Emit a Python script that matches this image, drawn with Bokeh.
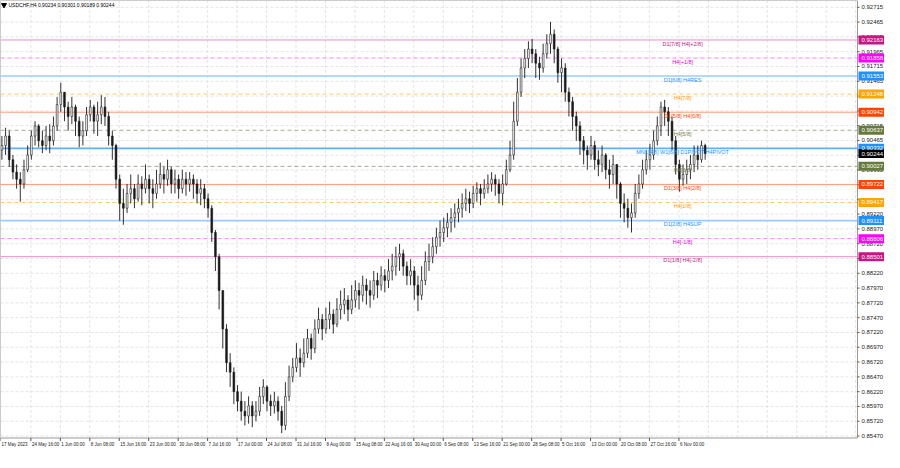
import numpy as np
from bokeh.plotting import figure
from bokeh.models import Range1d
from bokeh.embed import file_html
from bokeh.resources import INLINE
from bokeh.core.properties import value

# ---------------- data ----------------
SYMBOL = "USDCHF,H4"
LAST_OHLC = [0.90234, 0.90301, 0.90189, 0.90244]
PIP = 0.0001
BARS_PER_CANDLE = 4          # each drawn candle groups 4 H4 bars
OPEN0 = 9030

HIGH = [9054, 9068, 9063, 9022, 9006, 8993, 9014, 9038, 9063, 9079,
        9074, 9063, 9071, 9074, 9087, 9120, 9144, 9128, 9112, 9120,
        9107, 9087, 9079, 9103, 9115, 9107, 9112, 9123, 9120, 9095,
        9063, 9041, 8989, 8965, 8973, 8989, 8973, 8989, 8986, 9006,
        8989, 8981, 8997, 9009, 9002, 9014, 9002, 8997, 8989, 8997,
        8993, 8993, 8989, 8981, 8981, 8973, 8957, 8937, 8895, 8855,
        8793, 8736, 8687, 8663, 8633, 8622, 8606, 8614, 8606, 8606,
        8630, 8643, 8633, 8617, 8622, 8614, 8598, 8638, 8666, 8679,
        8704, 8695, 8712, 8728, 8720, 8744, 8764, 8753, 8764, 8774,
        8761, 8780, 8793, 8797, 8785, 8802, 8810, 8806, 8818, 8813,
        8810, 8826, 8823, 8834, 8829, 8846, 8855, 8867, 8872, 8862,
        8842, 8846, 8834, 8818, 8834, 8859, 8872, 8883, 8899, 8911,
        8916, 8924, 8932, 8940, 8948, 8957, 8965, 8960, 8970, 8976,
        8973, 8981, 8989, 8993, 8989, 8981, 8989, 9014, 9046, 9112,
        9152, 9185, 9201, 9214, 9218, 9201, 9188, 9210, 9226, 9247,
        9234, 9205, 9185, 9177, 9136, 9120, 9095, 9079, 9054, 9038,
        9054, 9046, 9030, 9038, 9025, 9014, 9022, 9006, 8976, 8957,
        8948, 8940, 8973, 8989, 9014, 9030, 9041, 9063, 9087, 9112,
        9115, 9103, 9087, 9054, 9014, 9006, 9014, 9022, 9038, 9038,
        9046, 9041]

LOW = [9014, 9022, 9002, 8981, 8965, 8943, 8965, 8993, 9014, 9038,
       9035, 9025, 9030, 9025, 9038, 9063, 9095, 9079, 9063, 9074,
       9054, 9035, 9038, 9054, 9079, 9058, 9054, 9074, 9071, 9038,
       9014, 8965, 8911, 8904, 8924, 8940, 8932, 8943, 8937, 8957,
       8940, 8932, 8948, 8965, 8957, 8970, 8957, 8957, 8948, 8957,
       8953, 8960, 8948, 8940, 8937, 8932, 8916, 8875, 8826, 8761,
       8695, 8655, 8630, 8601, 8589, 8573, 8565, 8568, 8562, 8572,
       8581, 8601, 8589, 8581, 8585, 8573, 8552, 8557, 8606, 8638,
       8655, 8647, 8663, 8679, 8676, 8687, 8720, 8709, 8720, 8728,
       8720, 8731, 8744, 8753, 8741, 8753, 8764, 8761, 8774, 8769,
       8764, 8777, 8780, 8793, 8790, 8797, 8810, 8818, 8826, 8818,
       8802, 8802, 8777, 8758, 8777, 8802, 8826, 8839, 8855, 8867,
       8875, 8883, 8891, 8899, 8908, 8916, 8927, 8924, 8932, 8943,
       8937, 8948, 8957, 8960, 8953, 8940, 8937, 8970, 8993, 9014,
       9071, 9120, 9152, 9169, 9177, 9152, 9149, 9161, 9185, 9193,
       9177, 9144, 9128, 9112, 9087, 9063, 9046, 9022, 9006, 8997,
       9014, 8997, 8986, 8993, 8981, 8965, 8973, 8948, 8916, 8908,
       8899, 8891, 8916, 8948, 8965, 8989, 8997, 9014, 9038, 9054,
       9071, 9054, 9030, 8989, 8960, 8970, 8973, 8981, 8993, 8997,
       9009, 9014]

CLOSE = [9038, 9054, 9014, 8993, 8981, 8973, 8997, 9022, 9054, 9071,
         9046, 9038, 9054, 9046, 9071, 9107, 9128, 9103, 9087, 9103,
         9079, 9054, 9063, 9090, 9103, 9079, 9090, 9103, 9087, 9054,
         9038, 8981, 8940, 8932, 8957, 8965, 8948, 8973, 8965, 8981,
         8965, 8957, 8973, 8989, 8981, 8997, 8973, 8981, 8965, 8981,
         8973, 8981, 8973, 8957, 8965, 8948, 8932, 8891, 8850, 8793,
         8728, 8671, 8655, 8622, 8606, 8589, 8581, 8598, 8581, 8589,
         8614, 8630, 8606, 8598, 8606, 8589, 8565, 8614, 8647, 8663,
         8679, 8671, 8687, 8712, 8695, 8728, 8744, 8728, 8744, 8753,
         8736, 8761, 8769, 8777, 8761, 8777, 8793, 8785, 8802, 8793,
         8785, 8810, 8802, 8818, 8810, 8826, 8834, 8850, 8855, 8834,
         8818, 8826, 8802, 8785, 8810, 8842, 8850, 8867, 8883, 8891,
         8899, 8908, 8916, 8924, 8932, 8940, 8948, 8940, 8957, 8965,
         8957, 8965, 8973, 8981, 8973, 8957, 8973, 8997, 9022, 9079,
         9128, 9169, 9185, 9201, 9193, 9177, 9169, 9193, 9210, 9226,
         9201, 9161, 9169, 9128, 9112, 9087, 9071, 9046, 9030, 9022,
         9038, 9014, 9006, 9022, 8997, 8989, 9006, 8973, 8940, 8932,
         8916, 8924, 8957, 8973, 8997, 9014, 9022, 9046, 9071, 9103,
         9095, 9079, 9046, 9006, 8981, 8989, 8997, 9006, 9022, 9014,
         9038, 9024.4]

TIME_LABELS = ["17 May 2023", "24 May 16:00", "1 Jun 00:00", "8 Jun 08:00",
               "15 Jun 16:00", "23 Jun 00:00", "30 Jun 08:00", "7 Jul 16:00",
               "17 Jul 00:00", "24 Jul 08:00", "31 Jul 16:00", "8 Aug 00:00",
               "15 Aug 08:00", "22 Aug 16:00", "30 Aug 00:00", "6 Sep 08:00",
               "13 Sep 16:00", "21 Sep 00:00", "28 Sep 08:00", "5 Oct 16:00",
               "13 Oct 00:00", "20 Oct 08:00", "27 Oct 16:00", "6 Nov 00:00"]
TIME_BARS = [0, 33, 65, 97, 129, 161, 193, 225, 257, 289, 321, 353, 385, 417,
             449, 481, 513, 545, 577, 609, 641, 673, 705, 737]
GRID_BAR_STEP = 32

PRICE_TICKS = [0.92715, 0.92465, 0.92215, 0.91965, 0.91715, 0.91465, 0.91215,
               0.90965, 0.90715, 0.90465, 0.90215, 0.89965, 0.89715, 0.89465,
               0.89220, 0.88970, 0.88720, 0.88470, 0.88220, 0.87970, 0.87720,
               0.87470, 0.87220, 0.86970, 0.86720, 0.86470, 0.86220, 0.85970,
               0.85720, 0.85470]

LEVEL_PRICES = [0.92163, 0.91858, 0.91553, 0.91248, 0.90942, 0.90637, 0.90332,
                0.90027, 0.89722, 0.89417, 0.89111, 0.88806, 0.88501]
LEVEL_NAMES = ["D1[7/8] H4[+2/8]", "H4[+1/8]", "D1[6/8] H4RES", "H4[7/8]",
               "D1[5/8] H4[6/8]", "H4[5/8]", "MN1[4/8] W1[6/8] D1PIVOT H4PIVOT",
               "H4[3/8]", "D1[3/8] H4[2/8]", "H4[1/8]", "D1[2/8] H4SUP",
               "H4[-1/8]", "D1[1/8] H4[-2/8]"]

# ---------------- styles ----------------
LEVEL_DASHED = [False, True, False, True, False, True, False, True, False, True, False, True, False]
LEVEL_DARK = ["#c71585", "#ff00ff", "#1e90ff", "#ffa500", "#ff4500", "#667a3c",
              "#1e90ff", "#667a3c", "#ff4500", "#ffa500", "#1e90ff", "#ff00ff", "#c71585"]
LEVEL_LINE = ["#e690c8", "#ff80ff", "#9ccbff", "#ffc870", "#ff9a78", "#a9a99a",
              "#5fb0ff", "#a9a99a", "#ff9a78", "#ffc870", "#9ccbff", "#ff80ff", "#e690c8"]
LEVEL_WIDTH = [1, 1, 1.6, 1, 1, 1, 1.6, 1, 1, 1, 1.6, 1, 1]
LEVEL_TEXT = ["#c71585", "#e000e0", "#1e90ff", "#ff9900", "#ff4500", "#7a8040",
              "#1e90ff", "#7a8040", "#ff4500", "#ff9900", "#1e90ff", "#e000e0", "#c71585"]

FONT = value("Liberation Sans")

# ---------------- layout ----------------
W, H = 884, 452
CHART_W_PX = 857.0
CHART_H_PX = 437.5
VIEW_BARS = 931.0
BPX = VIEW_BARS / CHART_W_PX
Y_TOP = 0.92830
Y_CHART_BOT = 0.85437
PPX = (Y_TOP - Y_CHART_BOT) / CHART_H_PX
X_END = VIEW_BARS + (W - CHART_W_PX) * BPX
Y_MIN = Y_CHART_BOT - (H - CHART_H_PX) * PPX

p = figure(width=W, height=H, x_range=Range1d(0, X_END), y_range=Range1d(Y_MIN, Y_TOP),
           output_backend="svg", toolbar_location=None, x_axis_type=None, y_axis_type=None,
           min_border=0)
p.outline_line_color = None
p.background_fill_color = "white"
p.border_fill_color = "white"

# grid
gx = list(range(TIME_BARS[1], int(VIEW_BARS), GRID_BAR_STEP))
p.segment(x0=gx, y0=[Y_CHART_BOT] * len(gx), x1=gx, y1=[Y_TOP] * len(gx),
          line_color="#e4e4e4", line_width=1, line_dash="3 2")
p.segment(x0=[0] * len(PRICE_TICKS), y0=PRICE_TICKS, x1=[VIEW_BARS] * len(PRICE_TICKS),
          y1=PRICE_TICKS, line_color="#e4e4e4", line_width=1, line_dash="3 2")

# level lines
for pr, dashed, col, lw in zip(LEVEL_PRICES, LEVEL_DASHED, LEVEL_LINE, LEVEL_WIDTH):
    p.segment(x0=[0], y0=[pr], x1=[VIEW_BARS], y1=[pr], line_color=col, line_width=lw,
              line_dash="4 3" if dashed else "solid")

# candles
n = min(len(HIGH), len(LOW), len(CLOSE))
c = np.array(CLOSE[:n], dtype=float) * PIP
hgh = np.array(HIGH[:n], dtype=float) * PIP
low = np.array(LOW[:n], dtype=float) * PIP
o = np.concatenate([[OPEN0 * PIP], c[:-1]])
hi = np.maximum.reduce([hgh, o, c])
lo = np.minimum.reduce([low, o, c])
xs = np.arange(n) * BARS_PER_CANDLE + BARS_PER_CANDLE / 2 - 0.5
bull = c >= o
p.segment(x0=xs, y0=lo, x1=xs, y1=hi, line_color="#1a1a1a", line_width=0.9)
p.vbar(x=xs[bull], width=1.9, top=c[bull], bottom=o[bull], fill_color="white",
       line_color="#1a1a1a", line_width=0.6)
p.vbar(x=xs[~bull], width=1.9, top=o[~bull], bottom=c[~bull], fill_color="#1a1a1a",
       line_color="#1a1a1a", line_width=0.6)

# level names
LABEL_X = 741
p.text(x=[LABEL_X] * len(LEVEL_PRICES), y=[pr - 0.6 * PPX for pr in LEVEL_PRICES],
       text=LEVEL_NAMES, text_color=LEVEL_TEXT, text_font=FONT, text_font_size="5.5px",
       text_align="center", text_baseline="top")

# chart border
p.segment(x0=[0, 0, VIEW_BARS, 0], y0=[Y_CHART_BOT, Y_TOP, Y_CHART_BOT, Y_CHART_BOT],
          x1=[VIEW_BARS, VIEW_BARS, VIEW_BARS, 0], y1=[Y_CHART_BOT, Y_TOP, Y_TOP, Y_TOP],
          line_color="#9a9a9a", line_width=1)

# right price axis
p.segment(x0=[VIEW_BARS] * len(PRICE_TICKS), y0=PRICE_TICKS,
          x1=[VIEW_BARS + 2 * BPX] * len(PRICE_TICKS), y1=PRICE_TICKS, line_color="#555555")
p.text(x=[VIEW_BARS + 4 * BPX] * len(PRICE_TICKS), y=PRICE_TICKS,
       text=["%.5f" % v for v in PRICE_TICKS], text_color="#222222", text_font=FONT,
       text_font_size="6px", text_align="left", text_baseline="middle")

# price boxes
box_prices = LEVEL_PRICES + [LAST_OHLC[3]]
box_cols = LEVEL_DARK + ["#000000"]
p.quad(left=[VIEW_BARS + 1 * BPX] * len(box_prices), right=[X_END] * len(box_prices),
       top=[v + 4.5 * PPX for v in box_prices], bottom=[v - 4.5 * PPX for v in box_prices],
       fill_color=box_cols, line_color=None)
p.text(x=[VIEW_BARS + 4 * BPX] * len(box_prices), y=box_prices,
       text=["%.5f" % v for v in box_prices], text_color="white", text_font=FONT,
       text_font_size="6px", text_align="left", text_baseline="middle")

# bottom time axis
p.segment(x0=TIME_BARS, y0=[Y_CHART_BOT] * len(TIME_BARS), x1=TIME_BARS,
          y1=[Y_CHART_BOT - 3 * PPX] * len(TIME_BARS), line_color="#555555")
p.text(x=[t + 1 * BPX for t in TIME_BARS], y=[Y_CHART_BOT - 4 * PPX] * len(TIME_BARS),
       text=TIME_LABELS, text_color="#222222", text_font=FONT, text_font_size="4.5px",
       text_align="left", text_baseline="top")

# title
p.scatter(x=[3.5 * BPX], y=[Y_TOP - 4.5 * PPX], marker="inverted_triangle", size=5,
          color="black")
title = SYMBOL + "  " + " ".join("%.5f" % v for v in LAST_OHLC)
p.text(x=[8 * BPX], y=[Y_TOP - 4.5 * PPX], text=[title], text_color="black",
       text_font=FONT, text_font_size="5px", text_align="left", text_baseline="middle")

open("out.html", "w").write(file_html(p, INLINE))
